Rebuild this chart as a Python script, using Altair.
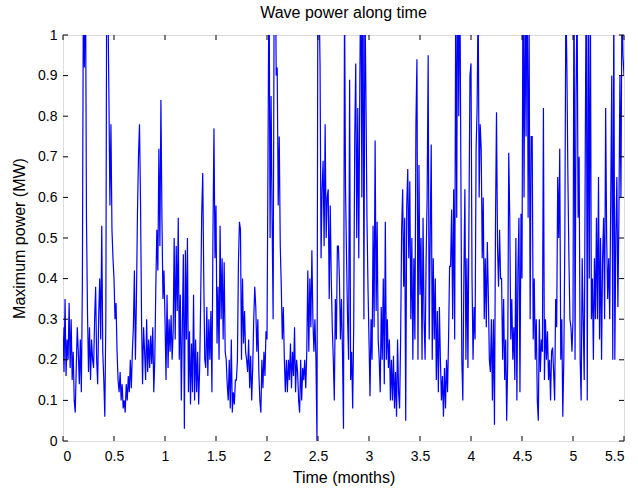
import altair as alt
import pandas as pd
import numpy as np

chart_title = "Wave power along time"
x_title = "Time (months)"
y_title = "Maximum power (MW)"
x_ticks = [0, 0.5, 1, 1.5, 2, 2.5, 3, 3.5, 4, 4.5, 5, 5.5]
y_ticks = [0, 0.1, 0.2, 0.3, 0.4, 0.5, 0.6, 0.7, 0.8, 0.9, 1]
step = 0.01  # months between samples

power_m0 = [
    0.28, 0.17, 0.35, 0.16, 0.25, 0.20, 0.34, 0.18, 0.30, 0.15,
    0.22, 0.10, 0.07, 0.18, 0.28, 0.22, 0.14, 0.25, 0.12, 0.39,
    1.15, 0.92, 1.20, 0.55, 0.32, 0.17, 0.28, 0.15, 0.25, 0.20,
    0.18, 0.30, 0.38, 0.20, 0.14, 0.31, 0.40, 0.25, 0.53, 0.22,
    0.15, 0.06, 0.30, 1.30, 1.10, 0.85, 0.58, 0.78, 0.52, 0.45,
    0.40, 0.30, 0.34, 0.22, 0.15, 0.12, 0.17, 0.10, 0.14, 0.08,
    0.10, 0.07, 0.14, 0.10, 0.16, 0.12, 0.20, 0.13, 0.22, 0.28,
    0.42, 0.20, 0.35, 0.56, 0.70, 0.78, 0.59, 0.30, 0.14, 0.28,
    0.22, 0.15, 0.30, 0.17, 0.25, 0.18, 0.26, 0.19, 0.28, 0.12,
    0.20, 0.38, 0.52, 0.42, 0.72, 0.48, 0.84, 0.55, 0.35, 0.42,
]
power_m1 = [
    0.30, 0.15, 0.36, 0.18, 0.30, 0.22, 0.31, 0.20, 0.27, 0.50,
    0.25, 0.48, 0.32, 0.55, 0.20, 0.36, 0.10, 0.28, 0.46, 0.03,
    0.47, 0.25, 0.50, 0.12, 0.27, 0.09, 0.24, 0.12, 0.36, 0.10,
    0.25, 0.12, 0.22, 0.09, 0.18, 0.35, 0.56, 0.66, 0.40, 0.20,
    0.18, 0.33, 0.16, 0.30, 0.20, 0.32, 0.12, 0.50, 0.77, 0.45,
    0.58, 0.24, 0.38, 0.20, 0.53, 0.30, 0.45, 0.25, 0.44, 0.22,
    0.20, 0.14, 0.10, 0.20, 0.08, 0.25, 0.07, 0.12, 0.09, 0.15,
    0.15, 0.20, 0.44, 0.54, 0.52, 0.20, 0.40, 0.24, 0.32, 0.22,
    0.20, 0.17, 0.25, 0.13, 0.21, 0.10, 0.18, 0.30, 0.38, 0.33,
    0.22, 0.30, 0.17, 0.10, 0.07, 0.20, 0.13, 0.22, 0.16, 0.27,
]
power_m2 = [
    0.25, 0.70, 1.20, 0.50, 0.85, 0.55, 0.30, 1.10, 1.30, 0.90,
    0.92, 0.58, 0.75, 0.48, 0.38, 0.25, 0.33, 0.20, 0.12, 0.20,
    0.12, 0.20, 0.15, 0.24, 0.13, 0.22, 0.16, 0.28, 0.12, 0.20,
    0.17, 0.10, 0.07, 0.20, 0.10, 0.18, 0.15, 0.20, 0.13, 0.22,
    0.42, 0.22, 0.40, 0.28, 0.47, 0.30, 0.22, 0.30, 0.20, 0.00,
    1.30, 1.10, 0.93, 0.45, 0.62, 0.69, 0.48, 0.78, 0.50, 0.60,
    0.62, 0.35, 0.58, 0.40, 0.28, 0.20, 0.10, 0.35, 0.25, 0.48,
    0.48, 0.40, 0.25, 0.35, 0.22, 0.03, 1.10, 0.62, 0.45, 0.30,
    0.20, 0.89, 0.15, 0.22, 0.08, 0.28, 0.74, 0.93, 0.50, 0.82,
    0.45, 0.88, 1.20, 0.60, 1.30, 0.30, 1.10, 0.85, 0.55, 0.38,
]
power_m3 = [
    0.25, 0.11, 0.30, 0.20, 0.53, 0.28, 0.74, 0.32, 0.54, 0.25,
    0.20, 0.12, 0.33, 0.20, 0.40, 0.14, 0.54, 0.20, 0.30, 0.18,
    0.25, 0.10, 0.20, 0.10, 0.21, 0.08, 0.17, 0.06, 0.25, 0.12,
    0.08, 0.25, 0.52, 0.62, 0.38, 0.55, 0.05, 0.58, 0.67, 0.45,
    0.64, 0.30, 0.50, 0.20, 0.45, 0.25, 0.78, 0.94, 0.20, 0.68,
    0.36, 0.50, 0.20, 0.55, 0.30, 0.20, 0.45, 0.60, 0.95, 0.25,
    0.50, 0.73, 0.20, 0.45, 0.25, 0.40, 0.15, 0.32, 0.12, 0.33,
    0.20, 0.10, 0.16, 0.06, 0.18, 0.08, 0.20, 0.12, 0.25, 0.43,
    0.43, 0.57, 0.30, 0.62, 0.25, 1.10, 0.55, 1.30, 0.80, 1.20,
    0.70, 0.20, 0.10, 0.40, 0.62, 0.20, 0.45, 0.18, 0.55, 0.90,
]
power_m4 = [
    0.93, 0.40, 0.20, 0.33, 0.25, 0.72, 0.82, 1.10, 0.60, 0.78,
    0.72, 0.45, 0.60, 0.30, 0.45, 0.28, 0.49, 0.36, 0.20, 0.17,
    0.30, 0.10, 0.30, 0.04, 0.53, 0.81, 0.48, 0.38, 0.52, 0.40,
    0.40, 0.20, 0.35, 0.15, 0.25, 0.05, 0.20, 0.71, 0.55, 0.25,
    0.35, 0.20, 0.28, 0.15, 0.50, 0.10, 0.42, 0.55, 0.12, 0.56,
    0.40, 1.20, 0.60, 1.10, 0.75, 1.30, 0.55, 1.00, 0.30, 0.75,
    0.75, 0.25, 0.40, 0.20, 0.30, 0.10, 0.05, 0.30, 0.17, 0.25,
    0.22, 0.82, 0.15, 0.30, 0.20, 0.27, 0.15, 0.20, 0.10, 0.22,
    0.23, 0.17, 0.10, 0.35, 0.28, 0.65, 0.50, 0.72, 0.20, 0.30,
    0.06, 0.20, 0.50, 1.10, 0.92, 0.65, 0.45, 0.30, 0.28, 0.22,
]
power_m5 = [
    0.30, 1.20, 0.20, 0.85, 1.10, 0.55, 0.70, 0.20, 0.10, 0.45,
    0.30, 0.15, 0.70, 1.20, 0.10, 1.10, 0.40, 1.15, 0.30, 0.40,
    0.20, 0.45, 0.30, 0.55, 0.30, 0.65, 0.25, 0.50, 0.20, 0.45,
    0.55, 0.30, 0.82, 0.50, 0.35, 0.45, 0.30, 0.60, 0.90, 0.20,
    1.10, 0.20, 0.50, 0.65, 0.33, 0.55, 0.90, 0.60, 1.10, 0.95, 0.90,
]

power = power_m0 + power_m1 + power_m2 + power_m3 + power_m4 + power_m5
time = np.round(np.arange(len(power)) * step, 2)
df = pd.DataFrame({"t": time, "p": power})
xt = pd.DataFrame({"t": x_ticks})
yt = pd.DataFrame({"p": y_ticks})

W, H = 561, 406
FONT = "Liberation Sans"
TICK = 5

xs = alt.Scale(domain=[0, 5.5], nice=False, zero=False)
ys = alt.Scale(domain=[0, 1], nice=False, zero=False)

x_axis = alt.Axis(
    values=x_ticks, ticks=False, domain=False, grid=False, format="~g",
    labelPadding=8, labelFontSize=14, labelFont=FONT, labelColor="black",
    title=x_title, titleFontSize=16, titleFont=FONT, titleFontWeight="normal",
    titleColor="black", titlePadding=6)
y_axis = alt.Axis(
    values=y_ticks, ticks=False, domain=False, grid=False, format="~g",
    labelPadding=6, labelFontSize=14, labelFont=FONT, labelColor="black",
    title=y_title, titleFontSize=16, titleFont=FONT, titleFontWeight="normal",
    titleColor="black", titlePadding=10)

X = alt.X("t:Q", scale=xs, axis=x_axis)
Y = alt.Y("p:Q", scale=ys, axis=y_axis)

line = alt.Chart(df).mark_line(color="#0000ff", strokeWidth=1.2, clip=True).encode(x=X, y=Y)

tick_style = dict(color="black", strokeWidth=1)
xb = alt.Chart(xt).mark_rule(**tick_style).encode(x=X, y=alt.value(H), y2=alt.value(H - TICK))
xtop = alt.Chart(xt).mark_rule(**tick_style).encode(x=X, y=alt.value(0), y2=alt.value(TICK))
yl = alt.Chart(yt).mark_rule(**tick_style).encode(y=Y, x=alt.value(0), x2=alt.value(TICK))
yr = alt.Chart(yt).mark_rule(**tick_style).encode(y=Y, x=alt.value(W), x2=alt.value(W - TICK))

chart = alt.layer(line, xb, xtop, yl, yr).properties(
    width=W, height=H,
    title=alt.TitleParams(chart_title, fontSize=16, font=FONT, fontWeight="normal",
                          color="black", offset=7, anchor="middle"),
    padding={"left": 63, "top": 35, "right": 14, "bottom": 51},
    autosize="none",
).configure_view(stroke="black", strokeWidth=1).configure(background="white")

chart.save("out.html", embed_options={"renderer": "svg", "actions": False})
